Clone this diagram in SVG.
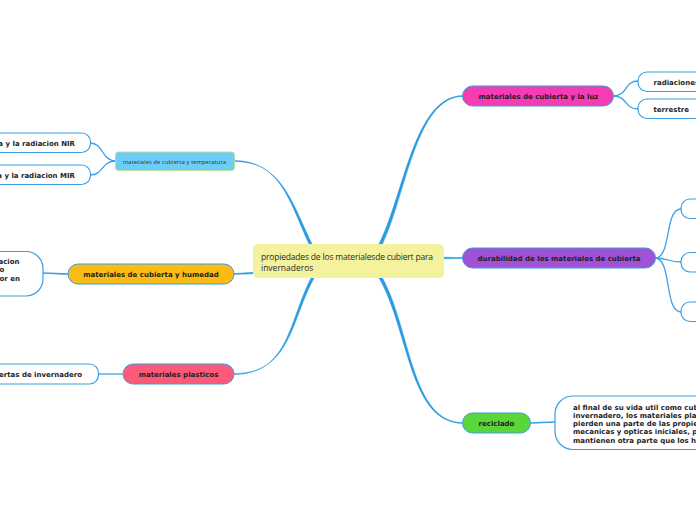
<svg xmlns="http://www.w3.org/2000/svg" width="696" height="520" viewBox="0 0 696 520">
<style>
.t{font-family:"DejaVu Sans",Verdana,sans-serif;font-weight:bold;font-size:7px;fill:#1e1e1e}
.c{font-family:"Open Sans","Noto Sans",sans-serif;font-size:8.5px;fill:#2a2a2a}
.node{stroke:#3a9de2;stroke-width:1}
.leaf{fill:#ffffff;stroke:#3a9de2;stroke-width:1.2}
.main{fill:#2a9be0;stroke:#2a9be0;stroke-width:0.5}
.sub{fill:none;stroke:#3aa0e6;stroke-width:1.3}
</style>
<rect width="696" height="520" fill="#ffffff"/>
<g id="connectors">
<path class="main" d="M 309 244 C 289 200 280 160.6 234 160.6 L 234 161.4 C 281 161.4 291 200 312 244 Z"/>
<path class="main" d="M 379 244 C 404 195 414 95.6 463 95.6 L 463 96.4 C 416 96.4 406 195 382.5 244 Z"/>
<path class="main" d="M 379 278 C 409 330 409 423.4 463 423.4 L 463 422.6 C 411 422.6 411 330 382.5 278 Z"/>
<path class="main" d="M 311 278 C 289 320 289 374.4 234 374.4 L 234 373.6 C 291 373.6 291 320 314 278 Z"/>
<path class="main" d="M 253 272.3 L 234 273.6 L 234 274.4 L 253 273.8 Z"/>
<path class="main" d="M 444 257.2 L 463 257.6 L 463 258.4 L 444 258.8 Z"/>
<path class="sub" d="M 613 96 C 628 96 624 81 638 81"/>
<path class="sub" d="M 613 96 C 628 96 624 109 638 109"/>
<path class="sub" d="M 655 258 C 672 258 664 209 681 209"/>
<path class="sub" d="M 655 258 C 668 258 668 262 681 262"/>
<path class="sub" d="M 655 258 C 672 258 664 312 681 312"/>
<path class="sub" d="M 531 423 C 542 423 543 422 555 422"/>
<path class="sub" d="M 116 161 C 101 161 104 143 90 143"/>
<path class="sub" d="M 116 161 C 101 161 104 175 90 175"/>
<path class="sub" d="M 68 274 C 56 274 55 273 43 273"/>
<path class="sub" d="M 123 374 L 98 374"/>
</g>
<g id="center">
<rect x="253" y="244" width="191" height="34" rx="5" fill="#f4f29c"/>
<text class="c" x="261" y="260" textLength="172" lengthAdjust="spacing">propiedades de los materialesde cubiert para</text>
<text class="c" x="261" y="271">invernaderos</text>
</g>
<g id="n-luz">
<rect class="node" x="462.5" y="86" width="151" height="20" rx="10" fill="#f53cb2"/>
<text class="t" x="538.5" y="98.5" text-anchor="middle">materiales de cubierta y la luz</text>
</g>
<g id="n-luz-1">
<rect class="leaf" x="638" y="72" width="120" height="19.5" rx="9"/>
<text class="t" x="653.5" y="84.5">radiaciones</text>
</g>
<g id="n-luz-2">
<rect class="leaf" x="638" y="99" width="120" height="19.5" rx="9"/>
<text class="t" x="653.5" y="111.5">terrestre</text>
</g>
<g id="n-dur">
<rect class="node" x="462.5" y="248" width="193" height="20" rx="10" fill="#a052d6"/>
<text class="t" x="559" y="260.5" text-anchor="middle">durabilidad de los materiales de cubierta</text>
</g>
<g id="n-dur-1"><rect class="leaf" x="681" y="199" width="60" height="19.5" rx="9"/></g>
<g id="n-dur-2"><rect class="leaf" x="681" y="252.5" width="60" height="19.5" rx="9"/></g>
<g id="n-dur-3"><rect class="leaf" x="681" y="302" width="60" height="19.5" rx="9"/></g>
<g id="n-rec">
<rect class="node" x="462.5" y="413" width="68" height="20" rx="10" fill="#5ad63a"/>
<text class="t" x="496.5" y="425.5" text-anchor="middle">reciclado</text>
</g>
<g id="n-rec-1">
<rect class="leaf" x="555" y="396" width="200" height="53.5" rx="18"/>
<text class="t" x="573" y="409.5">al final de su vida util como cub</text>
<text class="t" x="573" y="417.8">invernadero, los materiales pla</text>
<text class="t" x="573" y="426.1">pierden una parte de las propie</text>
<text class="t" x="573" y="434.4">mecanicas y opticas iniciales, p</text>
<text class="t" x="573" y="442.7">mantienen otra parte que los h</text>
</g>
<g id="n-temp">
<rect x="115.5" y="152" width="119" height="18.5" rx="3" fill="#6ecdf6" stroke="#b9df9e" stroke-width="1"/>
<text x="174.5" y="163.5" text-anchor="middle" font-family="Open Sans, Noto Sans, sans-serif" font-size="5.6" fill="#2a2a2a" textLength="103" lengthAdjust="spacing">matetiales de cubierta y temperatura</text>
</g>
<g id="n-temp-1">
<rect class="leaf" x="-60" y="133" width="150.5" height="19.5" rx="9"/>
<text class="t" x="75" y="145.5" text-anchor="end">a y la radiacion NIR</text>
</g>
<g id="n-temp-2">
<rect class="leaf" x="-60" y="165" width="150.5" height="19.5" rx="9"/>
<text class="t" x="75" y="178" text-anchor="end">a y la radiacion MIR</text>
</g>
<g id="n-hum">
<rect class="node" x="68" y="264" width="166" height="20" rx="10" fill="#fbbb15"/>
<text class="t" x="151" y="276.5" text-anchor="middle">materiales de cubierta y humedad</text>
</g>
<g id="n-hum-1">
<rect class="leaf" x="-100" y="251.5" width="143" height="44.5" rx="17"/>
<text class="t" x="-1.5" y="264.2">acion</text>
<text class="t" x="-0.5" y="272">o</text>
<text class="t" x="-0.5" y="280.5">or en</text>
</g>
<g id="n-pla">
<rect class="node" x="123" y="364" width="111" height="20" rx="10" fill="#fb5a78"/>
<text class="t" x="178.5" y="376.5" text-anchor="middle">materiales plasticos</text>
</g>
<g id="n-pla-1">
<rect class="leaf" x="-60" y="364" width="158.5" height="20" rx="9"/>
<text class="t" x="82" y="376.5" text-anchor="end">ertas de invernadero</text>
</g>
</svg>
